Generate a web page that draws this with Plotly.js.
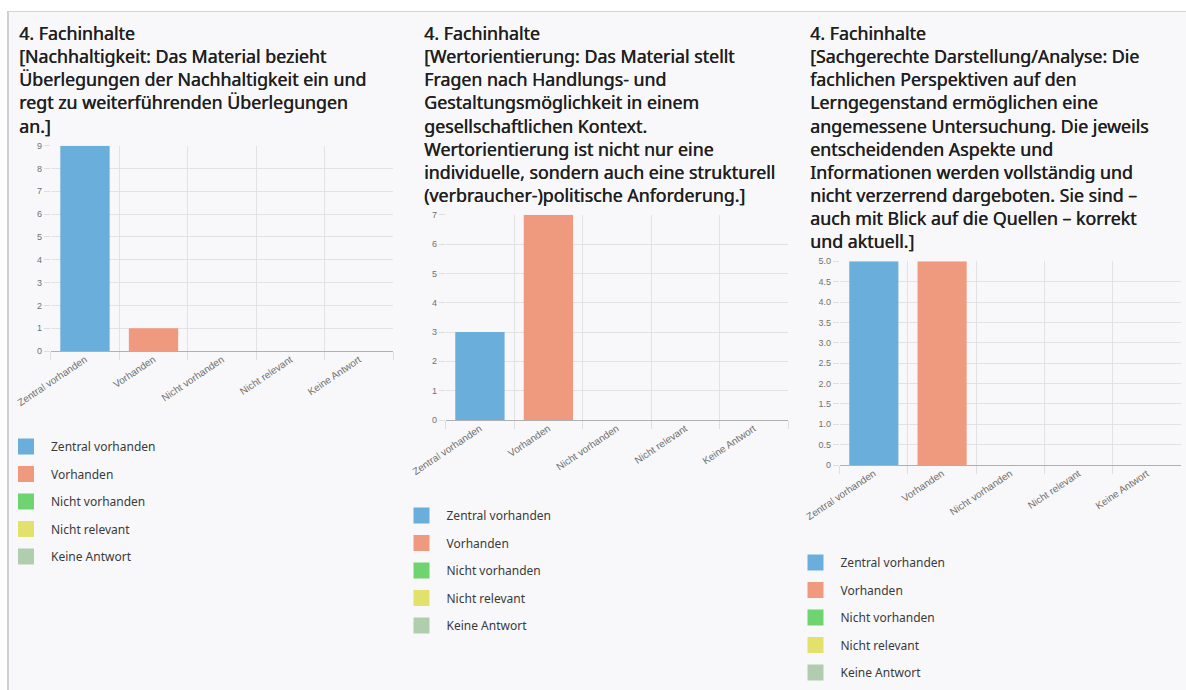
<!DOCTYPE html>
<html>
<head>
<meta charset="utf-8">
<script src="https://cdn.plot.ly/plotly-3.0.1.min.js"></script>
<style>
  html, body { margin:0; padding:0; background:#ffffff; width:1186px; height:690px; overflow:hidden; }
  #frame { position:absolute; left:7px; top:11px; width:1179px; height:679px; box-sizing:border-box;
           border-top:1px solid #d4d4d6; border-left:2px solid #cfcfd1; background:#f8f8fa; }
  #chart { position:absolute; left:0; top:0; width:1186px; height:690px; }
</style>
</head>
<body>
<div id="frame"></div>
<div id="chart"></div>
<script>
// ---- data ----
const categories = ["Zentral vorhanden", "Vorhanden", "Nicht vorhanden", "Nicht relevant", "Keine Antwort"];
const categoryColors = ["#6aaedb", "#ef9a7e", "#6fd46f", "#e2e16c", "#b0ceae"];

const titleNachhaltigkeit = "4. Fachinhalte<br>[Nachhaltigkeit: Das Material bezieht<br>Überlegungen der Nachhaltigkeit ein und<br>regt zu weiterführenden Überlegungen<br>an.]";
const titleWertorientierung = "4. Fachinhalte<br>[Wertorientierung: Das Material stellt<br>Fragen nach Handlungs- und<br>Gestaltungsmöglichkeit in einem<br>gesellschaftlichen Kontext.<br>Wertorientierung ist nicht nur eine<br>individuelle, sondern auch eine strukturell<br>(verbraucher-)politische Anforderung.]";
const titleSachgerecht = "4. Fachinhalte<br>[Sachgerechte Darstellung/Analyse: Die<br>fachlichen Perspektiven auf den<br>Lerngegenstand ermöglichen eine<br>angemessene Untersuchung. Die jeweils<br>entscheidenden Aspekte und<br>Informationen werden vollständig und<br>nicht verzerrend dargeboten. Sie sind –<br>auch mit Blick auf die Quellen – korrekt<br>und aktuell.]";

const valuesNachhaltigkeit = [9, 1, 0, 0, 0];
const valuesWertorientierung = [3, 7, 0, 0, 0];
const valuesSachgerecht = [5, 5, 0, 0, 0];

const yTickValsNachhaltigkeit = [0, 1, 2, 3, 4, 5, 6, 7, 8, 9];
const yTickTextNachhaltigkeit = ["0", "1", "2", "3", "4", "5", "6", "7", "8", "9"];
const yTickValsWertorientierung = [0, 1, 2, 3, 4, 5, 6, 7];
const yTickTextWertorientierung = ["0", "1", "2", "3", "4", "5", "6", "7"];
const yTickValsSachgerecht = [0, 0.5, 1, 1.5, 2, 2.5, 3, 3.5, 4, 4.5, 5];
const yTickTextSachgerecht = ["0", "0.5", "1.0", "1.5", "2.0", "2.5", "3.0", "3.5", "4.0", "4.5", "5.0"];

// ---- layout helpers (pixel geometry of the page) ----
const W = 1186, H = 690;
const px = v => v / W;
const py = v => 1 - v / H;

const panels = [
  { title: titleNachhaltigkeit, values: valuesNachhaltigkeit, tv: yTickValsNachhaltigkeit, tt: yTickTextNachhaltigkeit,
    xd: [50.7, 393.4], yd: [351, 145.7], titleX: 17, legX: 1, legY: 432 },
  { title: titleWertorientierung, values: valuesWertorientierung, tv: yTickValsWertorientierung, tt: yTickTextWertorientierung,
    xd: [445.7, 788], yd: [420, 214.7], titleX: 422, legX: 396.5, legY: 501 },
  { title: titleSachgerecht, values: valuesSachgerecht, tv: yTickValsSachgerecht, tt: yTickTextSachgerecht,
    xd: [839.7, 1181], yd: [465, 261.3], titleX: 807.5, legX: 790.5, legY: 548 }
];

const traces = [];
const layout = {
  width: W, height: H,
  margin: { l: 0, r: 0, t: 0, b: 0 },
  paper_bgcolor: "rgba(0,0,0,0)",
  plot_bgcolor: "rgba(0,0,0,0)",
  barmode: "overlay",
  bargap: 0.28,
  showlegend: true,
  annotations: [],
  font: { family: "Liberation Sans, Arial, sans-serif", color: "#666666" }
};

panels.forEach((p, i) => {
  const n = i + 1;
  const xa = n === 1 ? "x" : "x" + n;
  const ya = n === 1 ? "y" : "y" + n;
  const legName = n === 1 ? "legend" : "legend" + n;
  traces.push({
    type: "bar", x: categories, y: p.values, xaxis: xa, yaxis: ya,
    marker: { color: categoryColors, line: { width: 0 } },
    showlegend: false, hoverinfo: "x+y"
  });
  categories.forEach((c, k) => {
    traces.push({
      type: "scatter", mode: "markers", x: [null], y: [null], xaxis: xa, yaxis: ya,
      name: c, legend: legName, legendgroup: "p" + n + "c" + k,
      marker: { symbol: "square", size: 16, color: categoryColors[k] },
      showlegend: true, hoverinfo: "skip"
    });
  });
  layout["xaxis" + (n === 1 ? "" : n)] = {
    domain: [px(p.xd[0]), px(p.xd[1])], anchor: ya,
    type: "category", tickson: "boundaries", ticks: "outside", ticklen: 8, tickcolor: "#dedee0",
    showgrid: true, gridcolor: "#e2e2e4", gridwidth: 1, showline: false, zeroline: false,
    tickangle: -34, tickfont: { family: "Liberation Sans, Arial, sans-serif", size: 10, color: "#707070" },
    fixedrange: true
  };
  layout["yaxis" + (n === 1 ? "" : n)] = {
    domain: [py(p.yd[0]), py(p.yd[1])], anchor: xa,
    range: [0, p.tv[p.tv.length - 1]], tickvals: p.tv, ticktext: p.tt,
    ticks: "outside", ticklen: 6, tickcolor: "#dedee0",
    showgrid: true, gridcolor: "#e2e2e4", gridwidth: 1,
    zeroline: true, zerolinecolor: "#b0b0b2", zerolinewidth: 1, showline: false,
    tickfont: { family: "Liberation Sans, Arial, sans-serif", size: 9, color: "#707070" },
    fixedrange: true
  };
  layout[legName] = {
    x: px(p.legX), y: py(p.legY), xanchor: "left", yanchor: "top",
    bgcolor: "rgba(0,0,0,0)", borderwidth: 0,
    font: { family: "Noto Sans, sans-serif", size: 12, color: "#3a3a3a" },
    itemwidth: 40, tracegroupgap: 8.5, traceorder: "grouped",
    itemclick: false, itemdoubleclick: false
  };
  layout.annotations.push({
    xref: "paper", yref: "paper", x: px(p.titleX), y: py(19), xanchor: "left", yanchor: "top",
    align: "left", showarrow: false, text: p.title,
    font: { family: "Noto Sans, sans-serif", size: 17.8, color: "#1f1f1f", weight: 400,
            shadow: "0.45px 0 0 #1f1f1f" }
  });
});

Plotly.newPlot("chart", traces, layout, { displayModeBar: false, staticPlot: false });
</script>
</body>
</html>
